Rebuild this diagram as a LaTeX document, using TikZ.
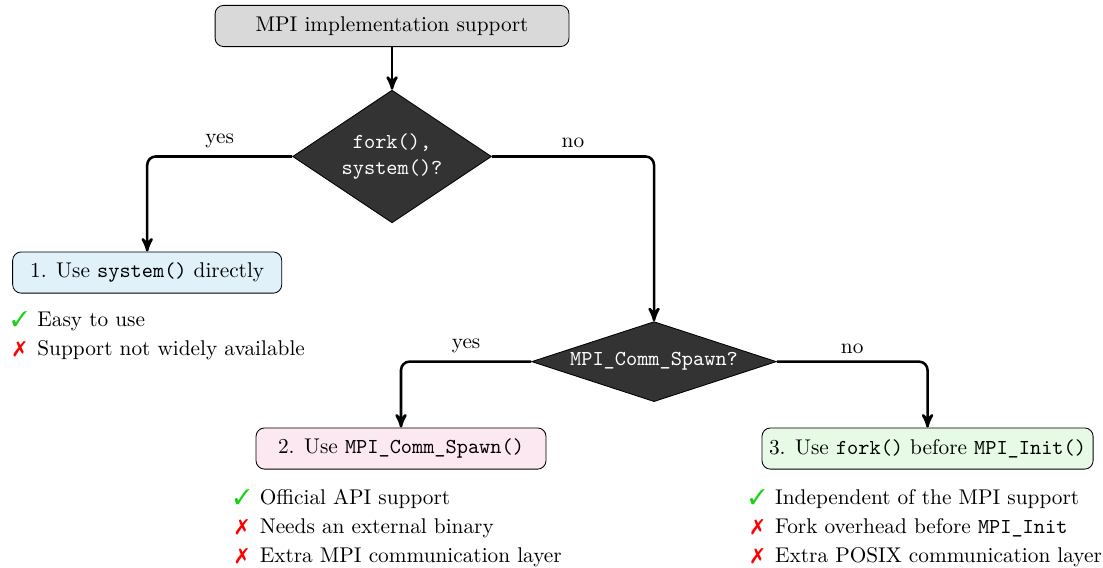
\documentclass[tikz,border=0pt]{standalone}
\usepackage{pifont}
\usetikzlibrary{arrows,shapes.geometric,positioning}

\definecolor{boxgray}{RGB}{217,217,217}
\definecolor{boxblue}{RGB}{224,241,250}
\definecolor{boxpink}{RGB}{252,232,241}
\definecolor{boxgreen}{RGB}{230,250,230}
\definecolor{decisionfill}{RGB}{51,51,51}
\definecolor{okgreen}{RGB}{20,210,20}

\newcommand{\pro}{\makebox[1em]{\textcolor{okgreen}{\ding{51}}}}
\newcommand{\con}{\makebox[1em]{\textcolor{red}{\ding{55}}}}

\begin{document}
\begin{tikzpicture}[->,>=stealth',very thick,on grid,
    choice/.style={rectangle,rounded corners,draw,thin,minimum height=0.68cm},
    decision/.style={diamond,draw,thin,fill=decisionfill,text=white,
                     inner sep=0pt,align=center,font=\ttfamily},
    notes/.style={align=left,inner sep=0pt,anchor=north west},
    elbow/.style={rounded corners,to path={-| (\tikztotarget) \tikztonodes}}]
        \useasboundingbox (0,0) rectangle (18.20,-9.356);
        \node[choice,fill=boxgray,minimum width=5.84cm]   (impl)  at (6.469,-0.429) {MPI implementation support};
        \node[decision,aspect=1.5,minimum width=3.28cm,minimum height=2.19cm]
                                                          (forkq) [below=2.153cm of impl]  {fork(),\\system()?};
        \node[choice,fill=boxblue,minimum width=4.44cm]   (sys)   [below left=1.915cm and 4.04cm of forkq]
                                                          {1. Use \texttt{system()} directly};
        \node[decision,aspect=3.06,minimum width=4.04cm,minimum height=1.32cm]
                                                          (spawnq) [below right=3.385cm and 4.323cm of forkq] {MPI\_Comm\_Spawn?};
        \node[choice,fill=boxpink,minimum width=4.785cm]  (spawn) [below left=1.434cm and 4.175cm of spawnq]
                                                          {2. Use \texttt{MPI\_Comm\_Spawn()}};
        \node[choice,fill=boxgreen,minimum width=5.46cm]  (fork)  [below right=1.434cm and 4.513cm of spawnq]
                                                          {3. Use \texttt{fork()} before \texttt{MPI\_Init()}};
        % pros and cons under each choice
        \node[notes] (sysnotes)   [below right=0.28cm and -0.075cm of sys.south west]
            {\pro\ Easy to use\\[1.6pt] \con\ Support not widely available};
        \node[notes] (spawnnotes) [below right=0.31cm and -0.42cm of spawn.south west]
            {\pro\ Official API support\\[1.6pt] \con\ Needs an external binary\\[1.6pt] \con\ Extra MPI communication layer};
        \node[notes] (forknotes)  [below right=0.31cm and -0.265cm of fork.south west]
            {\pro\ Independent of the MPI support\\[1.6pt] \con\ Fork overhead before \texttt{MPI\_Init}\\[1.6pt] \con\ Extra POSIX communication layer};
        \path[->] (impl)   edge                              (forkq);
        \path[->] (forkq)  edge [elbow] node[above,pos=0.25] {yes} (sys);
        \path[->] (forkq)  edge [elbow] node[above,pos=0.25] {no}  (spawnq);
        \path[->] (spawnq) edge [elbow] node[above,pos=0.25] {yes} (spawn);
        \path[->] (spawnq) edge [elbow] node[above,pos=0.25] {no}  (fork);
\end{tikzpicture}
\end{document}
